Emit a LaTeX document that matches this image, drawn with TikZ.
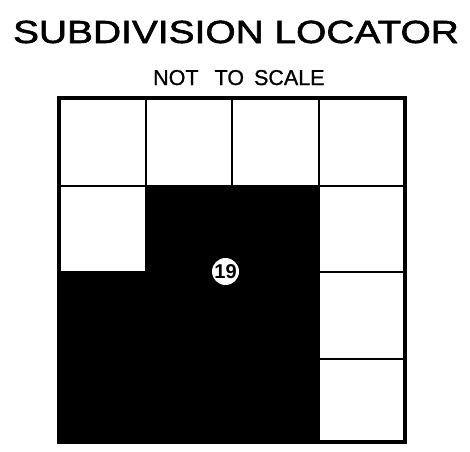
\documentclass[tikz,border=0pt]{standalone}
\usepackage{fontspec}
\setmainfont{Liberation Sans}
\newfontfamily\heavyfont[FakeBold=1.6]{Liberation Sans}
\newfontfamily\midfont[FakeBold=1.0]{Liberation Sans}
\begin{document}
\begin{tikzpicture}[x=1pt,y=-1pt,
  gridline/.style={line width=2.6pt,black},
  frame/.style={line width=4pt,black},
  keylabel/.style={circle,fill=white,draw=none,minimum size=27pt,inner sep=0pt,font=\fontsize{20}{20}\selectfont\bfseries}]
\useasboundingbox (0,0) rectangle (470,451);
\node[anchor=base,inner sep=0pt] (title) at (236,43)
  {\scalebox{1.215}[1.0]{\heavyfont\fontsize{32}{32}\selectfont SUBDIVISION LOCATOR}};
\node[anchor=base west,inner sep=0pt] (scale) at (153,85)
  {\midfont\fontsize{21.5}{21.5}\selectfont NOT\hspace{16pt}TO\hspace{10pt}SCALE};
% inner grid lines
\foreach \x in {146,232,319} \draw[gridline] (\x,98) -- (\x,442);
\foreach \y in {186,272,359} \draw[gridline] (59,\y) -- (405,\y);
% black region
\fill[black] (146,186) -- (319,186) -- (319,442) -- (59,442) -- (59,272) -- (146,272) -- cycle;
% frame
\draw[frame] (59,98) rectangle (405,442);
\node[keylabel] (key) at (225.5,271.5) {19};
\end{tikzpicture}
\end{document}
